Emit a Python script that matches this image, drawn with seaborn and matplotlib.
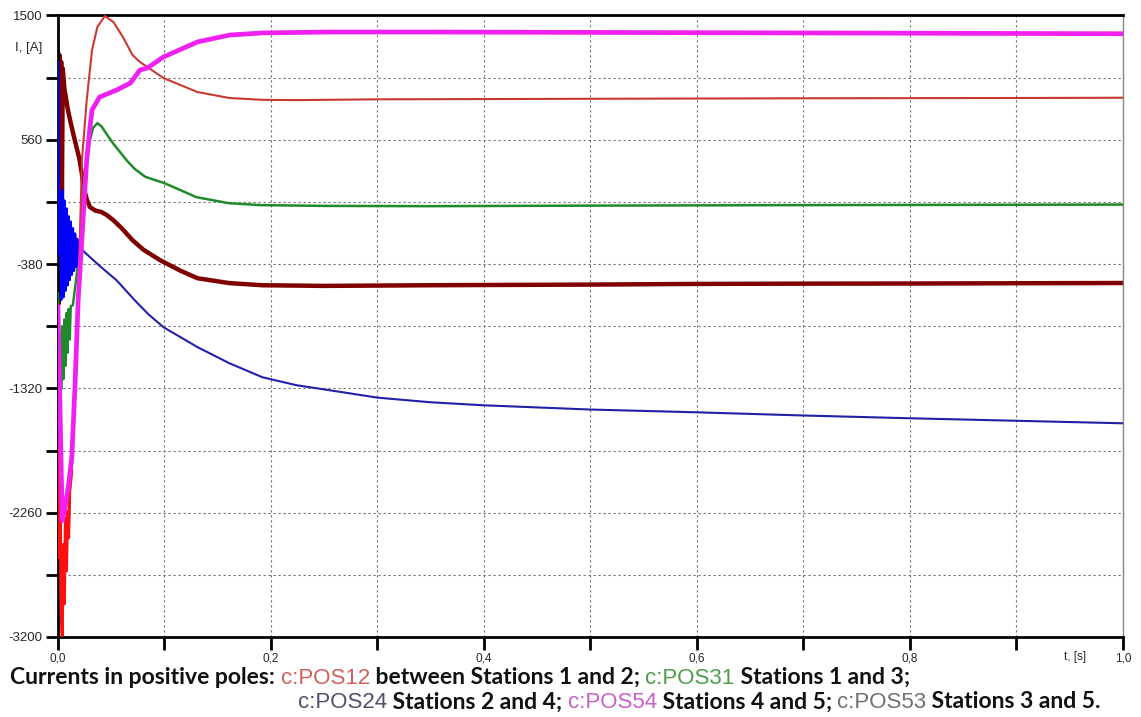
import numpy as np
import pandas as pd
import seaborn as sns
import matplotlib.pyplot as plt

# currents in positive poles
t_pos12 = [0, 0.001, 0.002, 0.003, 0.004, 0.005, 0.006, 0.007, 0.008, 0.009, 0.010, 0.011,
           0.013, 0.016, 0.019, 0.0225, 0.027, 0.032, 0.037, 0.044, 0.052, 0.061, 0.070,
           0.077, 0.084, 0.099, 0.131, 0.161, 0.192, 0.224, 0.30, 0.40, 0.50, 0.60, 0.70,
           0.80, 0.90, 1.0]
i_pos12 = [-1700, -2600, -2100, -3000, -3190, -2500, -2950, -2300, -2700, -2250, -2450, -2100,
           -1940, -1300, -653, 406, 860, 1239, 1413, 1496, 1451, 1337, 1201,
           1148, 1110, 1027, 921, 876, 862, 860, 866, 868, 870, 872, 874,
           875, 876, 878]

t_pos31 = [0, 0.001, 0.002, 0.003, 0.004, 0.005, 0.006, 0.007, 0.008, 0.009, 0.010, 0.011,
           0.012, 0.014, 0.017, 0.020, 0.023, 0.027, 0.030, 0.033, 0.037, 0.041, 0.046,
           0.052, 0.058, 0.065, 0.072, 0.082, 0.1, 0.13, 0.16, 0.19, 0.25, 0.35, 0.5, 0.7, 1.0]
i_pos31 = [-600, -1300, -900, -1330, -850, -1250, -800, -1150, -750, -1050, -720, -950,
           -700, -690, -500, -300, 150, 406, 558, 650, 686, 660, 600,
           530, 470, 400, 340, 280, 232, 126, 81, 66, 60, 58, 62, 66, 70]

t_pos24 = [0, 0.001, 0.002, 0.003, 0.004, 0.005, 0.006, 0.007, 0.008, 0.009, 0.010, 0.011,
           0.012, 0.013, 0.014, 0.015, 0.016, 0.017, 0.018, 0.019, 0.020, 0.021, 0.023,
           0.030, 0.040, 0.055, 0.072, 0.085, 0.099, 0.131, 0.161, 0.192, 0.224, 0.255,
           0.30, 0.35, 0.40, 0.50, 0.60, 0.70, 0.80, 0.90, 1.0]
i_pos24 = [1150, -300, 150, -650, 180, -630, 100, -580, 40, -540, -20, -500,
           -60, -460, -110, -430, -150, -400, -190, -360, -220, -300, -275,
           -327, -400, -502, -653, -760, -857, -1008, -1130, -1236, -1296, -1334,
           -1390, -1425, -1448, -1480, -1501, -1525, -1546, -1565, -1584]

t_pos54 = [0, 0.002, 0.004, 0.006, 0.008, 0.010, 0.013, 0.016, 0.019, 0.022, 0.025, 0.027,
           0.030, 0.032, 0.039, 0.055, 0.068, 0.077, 0.084, 0.099, 0.131, 0.161, 0.192,
           0.255, 0.349, 0.5, 0.6, 0.7, 0.8, 0.9, 1.0]
i_pos54 = [-700, -1500, -2320, -2250, -2150, -2050, -1840, -1300, -650, -250, 150, 406,
           650, 785, 883, 936, 989, 1088, 1103, 1186, 1300, 1352, 1368,
           1375, 1375, 1372, 1370, 1368, 1366, 1364, 1362]

t_pos53 = [0, 0.0007, 0.0015, 0.0022, 0.003, 0.0037, 0.0045, 0.006, 0.009, 0.012, 0.016,
           0.020, 0.0225, 0.024, 0.027, 0.030, 0.035, 0.041, 0.046, 0.052, 0.060, 0.070,
           0.080, 0.096, 0.115, 0.131, 0.161, 0.192, 0.25, 0.35, 0.5, 0.6, 0.7, 0.8, 0.9, 1.0]
i_pos53 = [1224, -680, 1200, -400, 1150, 100, 1100, 950, 800, 686, 550,
           420, 300, 202, 110, 51, 25, 13, -10, -48, -110, -199,
           -270, -351, -430, -487, -524, -540, -545, -540, -535, -530, -528, -527, -525, -523]

x_ticks = [0.0, 0.1, 0.2, 0.3, 0.4, 0.5, 0.6, 0.7, 0.8, 0.9, 1.0]
x_tick_labels = ["0,0", "", "0,2", "", "0,4", "", "0,6", "", "0,8", "", "1,0"]
y_ticks = [-3200, -2730, -2260, -1790, -1320, -850, -380, 90, 560, 1030, 1500]
y_tick_labels = ["-3200", "", "-2260", "", "-1320", "", "-380", "", "560", "", "1500"]

sns.set_theme(style="white")
plt.rcParams["font.family"] = ["Liberation Sans", "DejaVu Sans"]

fig = plt.figure(figsize=(11.41, 7.17), dpi=100)
ax = fig.add_axes([0.0508, 0.1116, 0.9334, 0.8668])

series = [
    (t_pos53, i_pos53, "#800000", 3.2, 2),
    (t_pos31, i_pos31, "#1f8a2a", 1.8, 3),
    (t_pos24, i_pos24, "#2020a8", 1.5, 4),
    (t_pos12, i_pos12, "#c83a30", 1.5, 5),
    (t_pos54, i_pos54, "#f020f0", 3.4, 6),
]
for t, i, col, lw, z in series:
    df = pd.DataFrame({"t": t, "i": i})
    sns.lineplot(data=df, x="t", y="i", color=col, linewidth=lw, ax=ax,
                 estimator=None, sort=False, zorder=z)

# brighter oscillation at the start of POS24 and POS12
df24 = pd.DataFrame({"t": t_pos24, "i": i_pos24})
sns.lineplot(data=df24[df24.t <= 0.023], x="t", y="i", color="#0000ff", linewidth=1.8,
             ax=ax, estimator=None, sort=False, zorder=4.5)
df12 = pd.DataFrame({"t": t_pos12, "i": i_pos12})
sns.lineplot(data=df12[df12.t <= 0.013], x="t", y="i", color="#ff1010", linewidth=2.2,
             ax=ax, estimator=None, sort=False, zorder=5.5)

ax.set_xlim(0, 1.0)
ax.set_ylim(-3200, 1500)
ax.set_xticks(x_ticks)
ax.set_xticklabels(x_tick_labels, fontsize=8.5)
ax.set_yticks(y_ticks)
ax.set_yticklabels(y_tick_labels, fontsize=9.5)
ax.set_xlabel("")
ax.set_ylabel("")
ax.tick_params(axis="both", direction="out", length=9, width=2, color="black",
               bottom=True, left=True, pad=2)
ax.grid(True, color="#707070", linestyle=(0, (2, 2.5)), linewidth=0.8)
for side in ["left", "bottom", "top"]:
    ax.spines[side].set_color("black")
    ax.spines[side].set_linewidth(2)
ax.spines["right"].set_color("#888888")
ax.spines["right"].set_linewidth(1)

fig.text(0.025, 0.933, "I, [A]", fontsize=9.5, va="center", ha="center")
fig.text(0.942, 0.083, "t, [s]", fontsize=8.5, va="center", ha="center")

# caption with coloured series names
bold = dict(family=["Lato", "DejaVu Sans"], fontweight="bold", fontsize=16.5)
thin = dict(family=["Liberation Sans", "DejaVu Sans"], fontsize=16)
line1 = [("Currents in positive poles: ", "#111111", bold),
         ("c:POS12", "#d0605a", thin),
         (" between Stations 1 and 2; ", "#111111", bold),
         ("c:POS31", "#4a9e4a", thin),
         (" Stations 1 and 3;", "#111111", bold)]
line2 = [("c:POS24", "#50506a", thin),
         (" Stations 2 and 4; ", "#111111", bold),
         ("c:POS54", "#c860c8", thin),
         (" Stations 4 and 5; ", "#111111", bold),
         ("c:POS53", "#707070", thin),
         (" Stations 3 and 5.", "#111111", bold)]

renderer = fig.canvas.get_renderer()
inv = fig.transFigure.inverted()
for x0, y0, parts in [(0.009, 0.046, line1), (0.261, 0.012, line2)]:
    x = x0
    for s, col, kw in parts:
        txt = fig.text(x, y0, s, color=col, va="baseline", ha="left", **kw)
        bb = txt.get_window_extent(renderer)
        x = inv.transform((bb.x1, 0))[0]

fig.savefig("out.png", dpi=100)
